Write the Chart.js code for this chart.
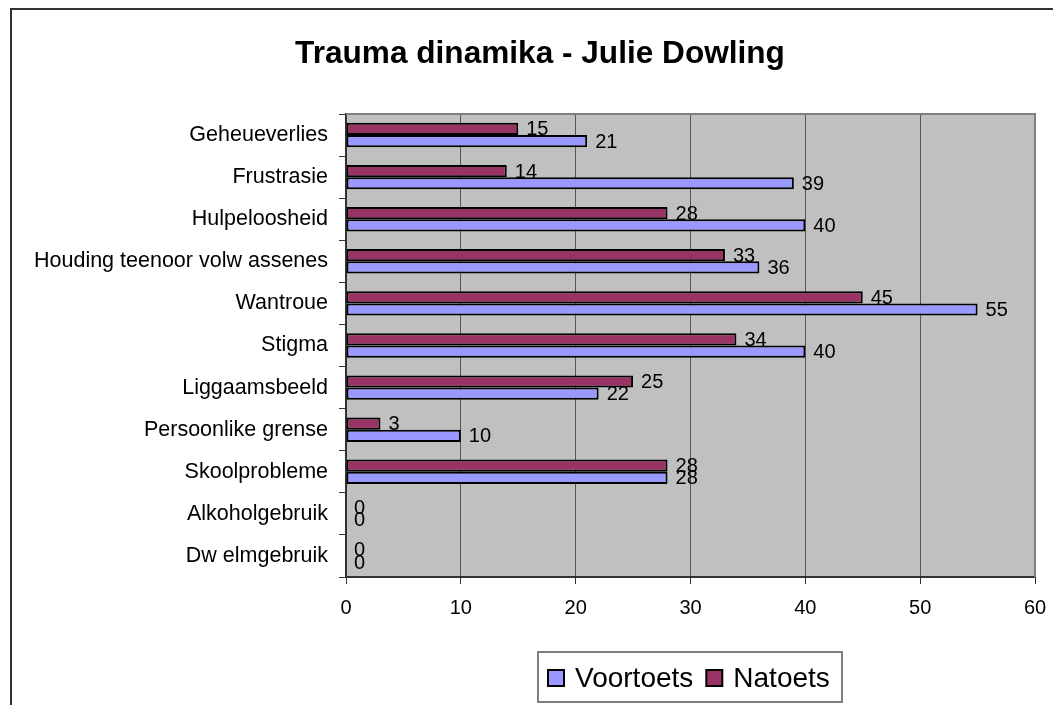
<!DOCTYPE html>
<html>
<head>
<meta charset="utf-8">
<script src="https://cdn.jsdelivr.net/npm/chart.js@4/dist/chart.umd.min.js"></script>
<style>
  html, body { margin: 0; padding: 0; background: #ffffff; }
  #wrap { width: 1053px; height: 705px; position: relative; }
</style>
</head>
<body>
<div id="wrap"><canvas id="c" width="1053" height="705"></canvas></div>
<script>
const titleText = 'Trauma dinamika - Julie Dowling';
const categories = ['Geheueverlies', 'Frustrasie', 'Hulpeloosheid', 'Houding teenoor volw assenes', 'Wantroue', 'Stigma', 'Liggaamsbeeld', 'Persoonlike grense', 'Skoolprobleme', 'Alkoholgebruik', 'Dw elmgebruik'];
const natoets = [15, 14, 28, 33, 45, 34, 25, 3, 28, 0, 0];
const voortoets = [21, 39, 40, 36, 55, 40, 22, 10, 28, 0, 0];
const xMin = 0, xMax = 60, xStep = 10;
const legendOrder = ['Voortoets', 'Natoets'];

const FONT = '"Liberation Sans", Arial, sans-serif';

const decorPlugin = {
  id: 'decor',
  beforeDraw(chart) {
    const ctx = chart.ctx;
    const a = chart.chartArea;
    ctx.save();
    ctx.fillStyle = '#ffffff';
    ctx.fillRect(0, 0, chart.width, chart.height);
    ctx.strokeStyle = '#333333';
    ctx.lineWidth = 2;
    ctx.strokeRect(11, 9, 1200, 900);
    ctx.fillStyle = '#C0C0C0';
    ctx.fillRect(a.left, a.top, a.right - a.left, a.bottom - a.top);
    ctx.restore();
  },
  afterDraw(chart) {
    const ctx = chart.ctx;
    const a = chart.chartArea;
    ctx.save();
    ctx.strokeStyle = '#808080';
    ctx.lineWidth = 2;
    ctx.beginPath();
    ctx.moveTo(a.left, a.top);
    ctx.lineTo(a.right, a.top);
    ctx.lineTo(a.right, a.bottom);
    ctx.stroke();
    ctx.fillStyle = '#000000';
    ctx.font = 'bold 31.6px ' + FONT;
    ctx.textAlign = 'center';
    ctx.textBaseline = 'alphabetic';
    ctx.fillText(titleText, 540, 63);
    ctx.font = '20px ' + FONT;
    ctx.textAlign = 'left';
    ctx.textBaseline = 'middle';
    chart.data.datasets.forEach((ds, di) => {
      const meta = chart.getDatasetMeta(di);
      meta.data.forEach((el, i) => {
        ctx.fillText(String(ds.data[i]), el.x + 8, el.y + 1);
      });
    });
    const lx = 538, ly = 652, lw = 304, lh = 50;
    ctx.strokeStyle = '#808080';
    ctx.lineWidth = 2;
    ctx.strokeRect(lx, ly, lw, lh);
    ctx.font = '28px ' + FONT;
    ctx.textBaseline = 'middle';
    let x = lx + 10;
    const cy = 678;
    legendOrder.forEach(name => {
      const ds = chart.data.datasets.find(d => d.label === name);
      ctx.fillStyle = ds.backgroundColor;
      ctx.fillRect(x, cy - 8, 16, 16);
      ctx.strokeStyle = '#000000';
      ctx.lineWidth = 2;
      ctx.strokeRect(x, cy - 8, 16, 16);
      ctx.fillStyle = '#000000';
      ctx.fillText(name, x + 27, cy + 1);
      x += 27 + ctx.measureText(name).width + 13;
    });
    ctx.restore();
  }
};

new Chart(document.getElementById('c'), {
  type: 'bar',
  data: {
    labels: categories,
    datasets: [
      { label: 'Natoets', data: natoets, backgroundColor: '#993366', borderColor: '#000000', borderWidth: 2, borderSkipped: false },
      { label: 'Voortoets', data: voortoets, backgroundColor: '#9999FF', borderColor: '#000000', borderWidth: 2, borderSkipped: false }
    ]
  },
  options: {
    indexAxis: 'y',
    responsive: false,
    animation: false,
    devicePixelRatio: 1,
    layout: { padding: { left: 0, top: 114, right: 18, bottom: 0 } },
    datasets: { bar: { categoryPercentage: 0.58, barPercentage: 1.0 } },
    plugins: {
      legend: { display: false },
      title: { display: false },
      tooltip: { enabled: false }
    },
    scales: {
      x: {
        min: xMin, max: xMax,
        ticks: { stepSize: xStep, color: '#000000', font: { family: FONT, size: 20 }, padding: 12, maxRotation: 0 },
        grid: { color: '#555555', lineWidth: 1, drawOnChartArea: true, drawTicks: true, tickLength: 7, tickColor: '#333333' },
        border: { display: true, color: '#333333', width: 2 },
        afterFit(s) { s.height = 128; s.paddingRight = 0; s.paddingLeft = 0; }
      },
      y: {
        ticks: { color: '#000000', font: { family: FONT, size: 21.5 }, padding: 11, autoSkip: false },
        grid: { offset: true, drawOnChartArea: false, drawTicks: true, tickLength: 7, tickColor: '#333333', color: '#333333' },
        border: { display: true, color: '#333333', width: 2 },
        afterFit(s) { s.width = 346; }
      }
    }
  },
  plugins: [decorPlugin]
});
</script>
</body>
</html>
